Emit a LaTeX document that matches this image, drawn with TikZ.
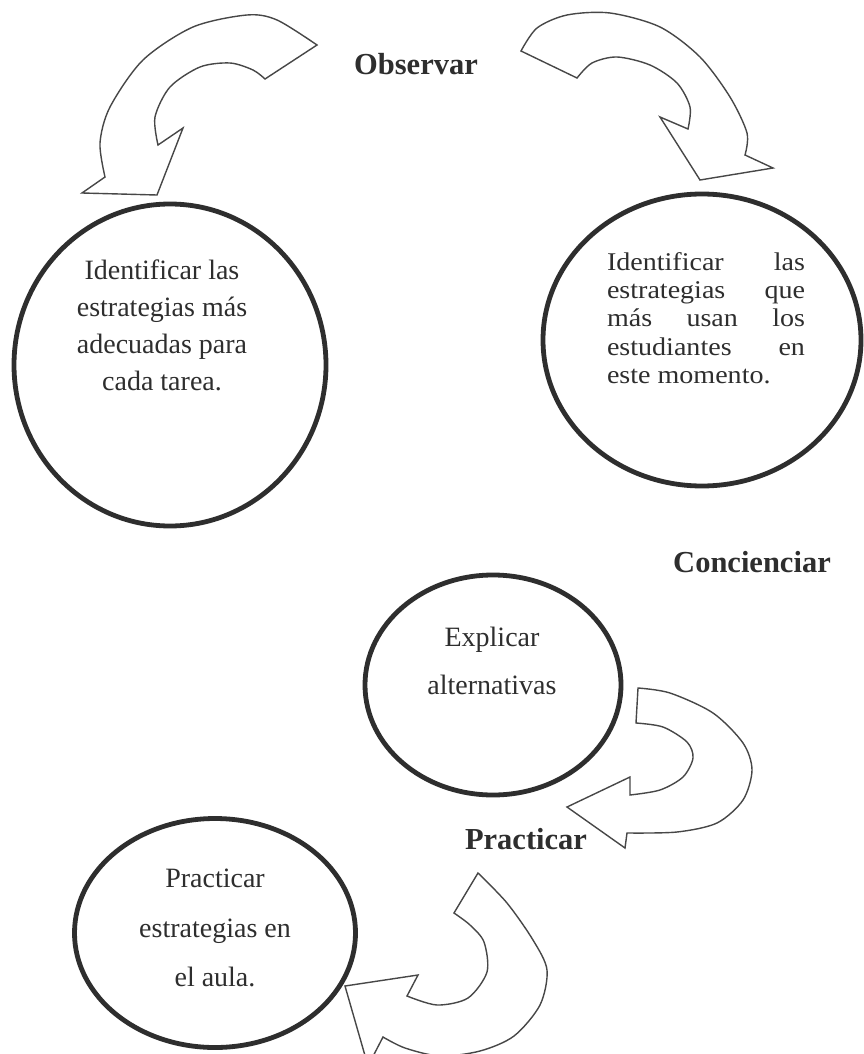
\documentclass[tikz,border=0pt]{standalone}
\usepackage{fontspec}
\setmainfont{Liberation Serif}
\newfontfamily\widefont[FakeStretch=1.1]{Liberation Serif}
\usetikzlibrary{shapes.geometric}
\definecolor{ink}{HTML}{2E2E2E}
\definecolor{arrowink}{HTML}{474747}
\begin{document}
\begin{tikzpicture}[x=1pt,y=-1pt,
  circ/.style={ellipse, draw=ink, line width=4.8pt, inner sep=0pt},
  blockarrow/.style={draw=arrowink, line width=1.4pt, line join=miter},
  tag/.style={font=\fontsize{30.5}{36}\selectfont\bfseries, text=ink, inner sep=0pt},
  body/.style={text=ink, align=center, inner sep=0pt},
]
\fill[white] (0,0) rectangle (864,1054);
\clip (0,0) rectangle (864,1054);

% curved block arrows
\draw[blockarrow] plot[smooth] coordinates {(317,45) (277,20) (247,15) (193,27) (143,60) (110,107) (100,143) (105,177)}
  -- (82,193) -- (157,195) -- (183,128) -- (158,145)
  -- plot[smooth] coordinates {(158,145) (155,117) (170,87) (200,67) (230,63) (253,70) (265,79)} -- cycle;

\draw[blockarrow] plot[smooth] coordinates {(521,51) (537,28) (567,15) (610,13) (660,27) (700,57) (730,97) (747,133) (745,155)}
  -- (773,168) -- (700,180) -- (660,117) -- (688,129)
  -- plot[smooth] coordinates {(688,129) (690,107) (677,83) (650,65) (617,57) (592,63) (577,78)} -- cycle;

\draw[blockarrow] plot[smooth] coordinates {(638,688) (670,693) (713,713) (743,743) (752,770) (743,800) (717,823) (677,832) (627,833)}
  -- (625,848) -- (567,807) -- (630,777) -- (630,795)
  -- plot[smooth] coordinates {(630,795) (660,790) (683,777) (693,758) (687,742) (663,727) (636,723)} -- cycle;

\draw[blockarrow] plot[smooth] coordinates {(478,873) (507,903) (533,940) (547,970) (540,1005) (514,1036) (480,1051) (440,1056) (405,1048) (383,1037)}
  -- (368,1066) -- (345,986) -- (418,975) -- (407,996)
  -- plot[smooth] coordinates {(407,996) (437,1005) (468,998) (487,972) (484,942) (470,925) (454,913)} -- cycle;

% circles
\node[circ, minimum width=312pt, minimum height=322pt] (c1) at (170,365) {};
\node[circ, minimum width=318pt, minimum height=292pt] (c2) at (702,340) {};
\node[circ, minimum width=256pt, minimum height=220pt] (c3) at (493,685) {};
\node[circ, minimum width=281pt, minimum height=229pt] (c4) at (215,933) {};

% labels
\node[tag] (obs) at (416,64) {Observar};
\node[tag] (conc) at (752,562) {Concienciar};
\node[tag] (prac) at (526,839) {Practicar};

% circle texts
\node[body, font=\fontsize{28}{37}\selectfont] (t1) at (162,325)
  {Identificar las\\estrategias más\\adecuadas para\\cada tarea.};
\node[inner sep=0pt, text=ink] (t2) at (706,318) {\begin{minipage}{198pt}\widefont\fontsize{25.5}{28.3}\selectfont
\hbox to\hsize{Identificar\hfill las}
\hbox to\hsize{estrategias\hfill que}
\hbox to\hsize{más\hfill usan\hfill los}
\hbox to\hsize{estudiantes\hfill en}
\hbox to\hsize{este momento.\hfill}
\end{minipage}};
\node[body, font=\fontsize{28}{48}\selectfont] (t3) at (492,661) {Explicar\\alternativas};
\node[body, font=\fontsize{28}{49.5}\selectfont] (t4) at (215,928) {Practicar\\estrategias en\\el aula.};
\end{tikzpicture}
\end{document}
